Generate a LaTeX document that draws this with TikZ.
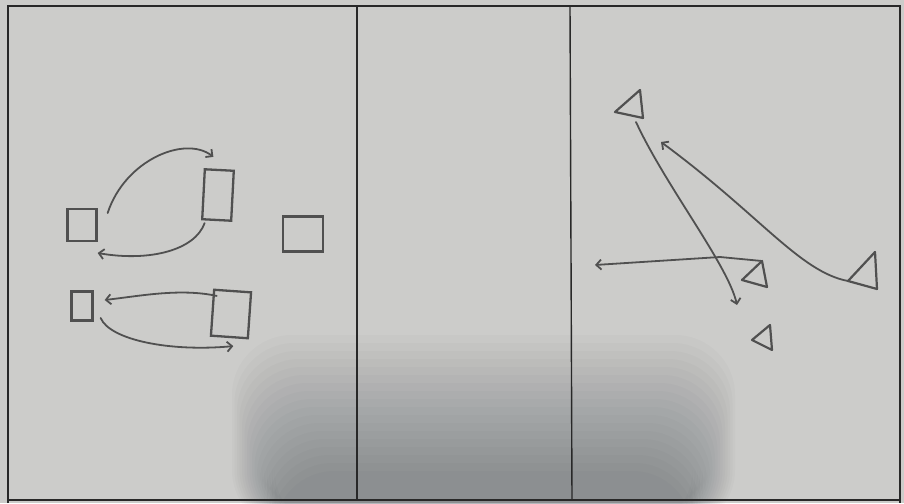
\documentclass[tikz,border=0pt]{standalone}
\usetikzlibrary{arrows.meta}
\definecolor{paper}{RGB}{204,204,202}
\definecolor{shadowc}{RGB}{40,50,62}
\definecolor{pencil}{RGB}{80,80,80}
\definecolor{frame}{RGB}{40,40,40}
\tikzset{
  box/.style={draw=pencil, line width=2.3pt, inner sep=0pt},
  stroke/.style={draw=pencil, line width=1.8pt, line cap=round, line join=round},
  arr/.style={stroke, -{Straight Barb[length=5pt,width=10pt,line width=1.8pt]}},
  tri/.style={draw=pencil, line width=2.2pt, line join=round},
  border/.style={draw=frame, line width=1.4pt}
}
\begin{document}
\begin{tikzpicture}[x=1pt,y=-1pt]
\useasboundingbox (0,0) rectangle (904,503);
\fill[paper] (0,0) rectangle (904,503);
% soft shadow of the photo
\foreach \i in {0,...,17}{
  \fill[shadowc, opacity=0.024, rounded corners=60pt]
    ({232+\i*2.5},{335+\i*8}) rectangle ({735-\i*2.5},530);
}
% frame
\draw[border] (8,503) -- (8,6) -- (900,6) -- (900,503);
\draw[border] (8,500) -- (900,500);
\draw[border] (357,6) -- (357,500);
\draw[border] (570,6) -- (572,500);

% left panel boxes
\node[box, minimum width=29pt, minimum height=32pt] (A) at (82,225) {};
\node[box, minimum width=29pt, minimum height=50pt, rotate=-3] (B) at (218,195) {};
\node[box, minimum width=40pt, minimum height=35pt] (C) at (303,234) {};
\node[box, minimum width=21pt, minimum height=29pt] (D) at (82,306) {};
\node[box, minimum width=37pt, minimum height=46pt, rotate=-4] (E) at (231,314) {};

% left panel arrows
\draw[arr] ([shift={(10,-12)}]A.east) .. controls (125,160) and (185,135) .. ([shift={(-6,-12)}]B.north);
\draw[arr] ([shift={(-12,2)}]B.south) .. controls (195,250) and (150,262) .. ([shift={(0,28)}]A.east);
\draw[arr] ([shift={(-16,6)}]E.north) .. controls (180,288) and (140,296) .. ([shift={(11,-6)}]D.east);
\draw[arr] ([shift={(7,12)}]D.east) .. controls (110,340) and (170,352) .. ([shift={(4,8)}]E.south);

% right panel triangles
\coordinate (T1a) at (615,112); \coordinate (T1b) at (640,90); \coordinate (T1c) at (643,118);
\coordinate (T2a) at (742,280); \coordinate (T2b) at (762,261); \coordinate (T2c) at (767,287);
\coordinate (T3a) at (848,281); \coordinate (T3b) at (875,252); \coordinate (T3c) at (877,289);
\coordinate (T4a) at (752,340); \coordinate (T4b) at (770,325); \coordinate (T4c) at (772,350);
\draw[tri] (T1a) -- (T1b) -- (T1c) -- cycle;
\draw[tri] (T2a) -- (T2b) -- (T2c) -- cycle;
\draw[tri] (T3a) -- (T3b) -- (T3c) -- cycle;
\draw[tri] (T4a) -- (T4b) -- (T4c) -- cycle;

% right panel arrows
\coordinate (t1out) at (636,122);
\coordinate (endA) at (737,305);
\coordinate (endB) at (661,142);
\coordinate (endC) at (595,265);
\draw[arr] (t1out) .. controls (665,185) and (728,265) .. (endA);
\draw[arr] (T3a) .. controls (800,272) and (760,215) .. (endB);
\draw[arr] (T2b) -- (720,257) -- (endC);
\end{tikzpicture}
\end{document}
